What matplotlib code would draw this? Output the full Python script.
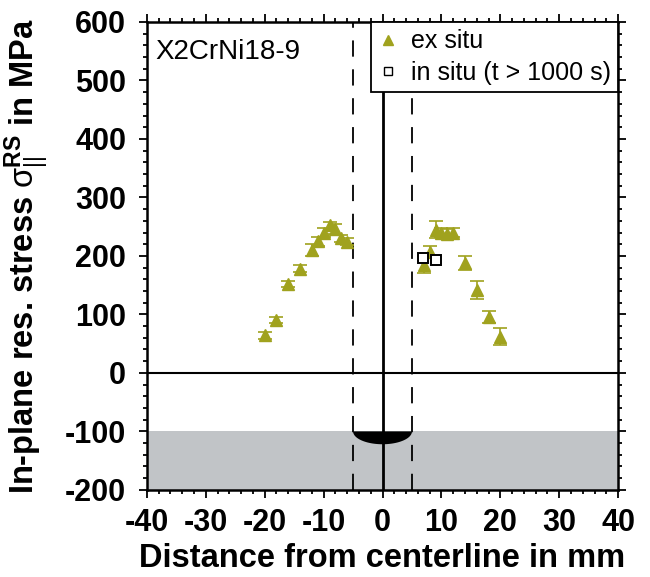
import numpy as np
import matplotlib
matplotlib.use("Agg")
import matplotlib.pyplot as plt
from matplotlib.lines import Line2D
from matplotlib.ticker import MultipleLocator

plt.rcParams['font.family'] = ['Liberation Sans', 'DejaVu Sans']
plt.rcParams['mathtext.fontset'] = 'custom'
plt.rcParams['mathtext.rm'] = 'Liberation Sans'
plt.rcParams['mathtext.it'] = 'Liberation Sans:italic'
plt.rcParams['mathtext.bf'] = 'Liberation Sans:bold'
plt.rcParams['axes.unicode_minus'] = False

# ex situ measurements
ex_x = [-20, -18, -16, -14, -12, -11, -10, -9, -8, -7, -6,
        7, 8, 9, 10, 11, 12, 14, 16, 18, 20]
ex_y = [64, 90, 152, 178, 210, 225, 240, 252, 246, 230, 224,
        185, 207, 245, 240, 238, 240, 188, 142, 96, 62]
ex_err = [6, 5, 5, 6, 10, 8, 8, 6, 8, 6, 6,
          14, 10, 14, 8, 8, 8, 12, 15, 10, 14]

# in situ (t > 1000 s)
in_x = [6.8, 9.0]
in_y = [196, 193]

olive = '#a0a21e'

fig = plt.figure(figsize=(6.5, 5.77), dpi=100)
ax = fig.add_axes([0.226, 0.151, 0.725, 0.811])

ax.set_xlim(-40, 40)
ax.set_ylim(-200, 600)

# grey region below -100 MPa
ax.axhspan(-200, -100, color='#c1c4c7', zorder=0, lw=0)

# fusion zone half ellipse
theta = np.linspace(np.pi, 2 * np.pi, 60)
ax.fill(5 * np.cos(theta), -100 + 22 * np.sin(theta), color='black',
        zorder=3, lw=0)

ax.axvline(0, color='black', lw=2, zorder=2)
ax.axhline(0, color='black', lw=1.5, zorder=2)
for xv in (-5, 5):
    ax.axvline(xv, color='black', lw=1.3, ls=(0, (9, 7)), zorder=2)

ax.errorbar(ex_x, ex_y, yerr=ex_err, fmt='^', color=olive, ms=8,
            ecolor=olive, elinewidth=1.2, capsize=5, capthick=1.2,
            zorder=4)
ax.plot(in_x, in_y, 's', mfc='white', mec='black', mew=1.4, ms=7,
        zorder=5)

ax.text(-38.5, 548, 'X2CrNi18-9', fontsize=20, va='center', ha='left')

ax.xaxis.set_major_locator(MultipleLocator(10))
ax.xaxis.set_minor_locator(MultipleLocator(2))
ax.yaxis.set_major_locator(MultipleLocator(100))
ax.yaxis.set_minor_locator(MultipleLocator(20))
ax.tick_params(which='both', direction='out', top=True, right=True,
               width=1.3)
ax.tick_params(which='major', length=6, labelsize=22)
ax.tick_params(axis='x', which='major', pad=7)
ax.tick_params(axis='y', which='major', pad=9)
ax.tick_params(which='minor', length=3)
for lab in ax.get_xticklabels() + ax.get_yticklabels():
    lab.set_fontweight('bold')
for sp in ax.spines.values():
    sp.set_linewidth(1.8)

ax.set_xlabel('Distance from centerline in mm', fontsize=23.5,
              fontweight='bold', labelpad=4)
ax.set_ylabel(r'In-plane res. stress $\mathrm{\sigma}_{||}^{\mathbf{RS}}$ in MPa',
              fontsize=23.5, fontweight='bold', labelpad=10)

handles = [
    Line2D([], [], ls='none', marker='^', color=olive, ms=7),
    Line2D([], [], ls='none', marker='s', mfc='white', mec='black',
           mew=1.0, ms=6),
]
labels = ['ex situ', 'in situ (t > 1000 s)']
leg = ax.legend(handles, labels, loc='upper right', bbox_to_anchor=(1.0, 1.0),
                fontsize=18, frameon=True, fancybox=False, borderaxespad=0,
                handlelength=0.8, handletextpad=0.5, borderpad=0.3,
                labelspacing=0.3)
leg.get_frame().set_edgecolor('black')
leg.get_frame().set_linewidth(1.3)
leg.get_frame().set_alpha(1)
leg.set_zorder(10)

fig.savefig('out.png', dpi=100)
